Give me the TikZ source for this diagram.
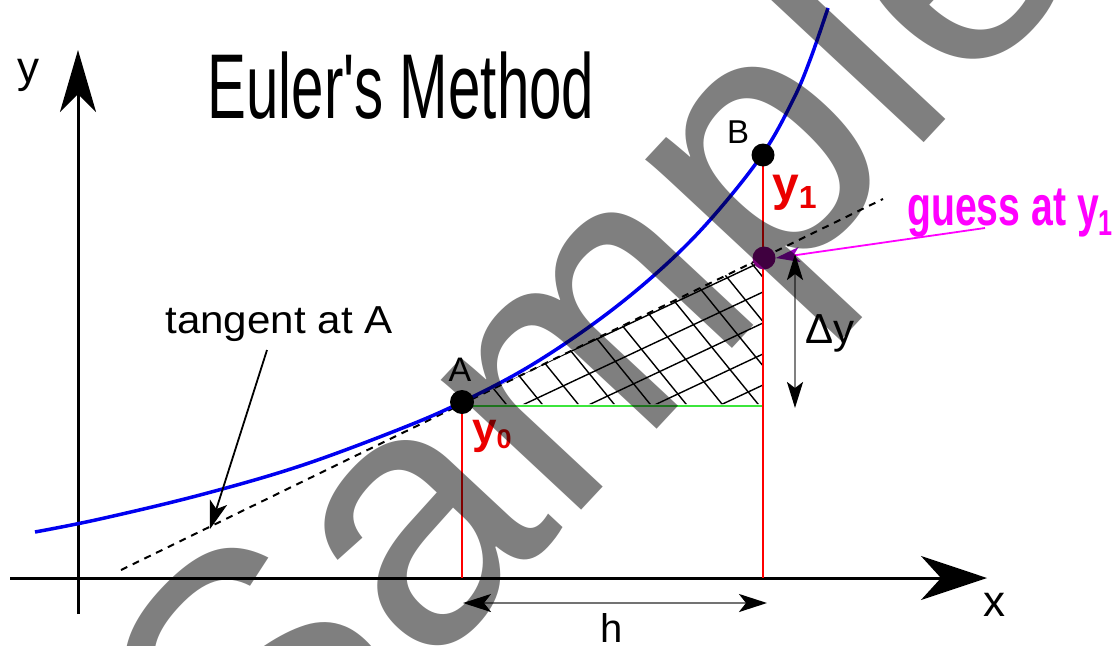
\documentclass[tikz,border=0pt]{standalone}
\usepackage{fontspec}
\setmainfont{Liberation Sans}
\newfontfamily\plainsans{Liberation Sans}
\usetikzlibrary{arrows.meta}
\definecolor{curveblue}{RGB}{0,0,240}
\definecolor{ptpurple}{RGB}{128,0,128}
\definecolor{ylabred}{RGB}{235,0,0}
\definecolor{hgreen}{RGB}{60,230,60}
\definecolor{guessmag}{RGB}{255,0,255}
\definecolor{arrowpurple}{RGB}{150,0,190}
\begin{document}
\begin{tikzpicture}[x=1pt,y=-1pt,
  lab/.style={inner sep=0pt, font=\fontsize{#1}{#1}\selectfont},
  axisline/.style={line width=3pt},
  bigtip/.style={-{Stealth[length=62pt,width=36pt,inset=18pt]}},
  xtip/.style={-{Stealth[length=66pt,width=44pt,inset=20pt]}},
  dimarrow/.style={line width=2.5pt, draw=black!55, {Stealth[black,length=28pt,width=18pt,inset=7pt]}-{Stealth[black,length=28pt,width=18pt,inset=7pt]}},
  redline/.style={line width=2.5pt, draw=red},
  hatch/.style={line width=1.4pt, draw=black},
  dot/.style={circle, inner sep=0pt, minimum size=#1},
  tangentline/.style={line width=2pt, dash pattern=on 7pt off 6pt},
  pointer/.style={line width=1.8pt, -{Stealth[length=28pt,width=18pt,inset=7pt]}},
]
\useasboundingbox (0,0) rectangle (1118,645);
\fill[white] (0,0) rectangle (1118,645);

% axes
\coordinate (Y0) at (78,614);
\coordinate (Y1) at (78,50);
\coordinate (X0) at (10,578);
\coordinate (X1) at (987,578);
\draw[axisline,bigtip] (Y0) -- (Y1);
\draw[axisline,xtip] (X0) -- (X1);
\node[lab=44, anchor=base] (ylab) at (28,82) {y};
\node[lab=44, anchor=base] (xlab) at (994,616) {x};

% title
\node[inner sep=0pt, anchor=base, xscale=0.633, font=\plainsans\fontsize{92}{92}\selectfont] (title) at (401,118) {Euler's Method};

% hatch
\begin{scope}
  \clip (462,404) -- (763,404) -- (763,257) -- cycle;
  \foreach \k in {-1,...,7} {
    \draw[hatch] ({363},{416-31*\k+188}) -- ({813},{416-31*\k-23.5});
  }
  \foreach \k in {0,...,12} {
    \draw[hatch] ({470+36*\k-150},{404-1.23*150}) -- ({470+36*\k+20},{404+1.23*20});
  }
\end{scope}

% points
\coordinate (Apos) at (462,402);
\coordinate (Bpos) at (763,155);
\coordinate (Gpos) at (764,258);
\coordinate (Gfoot) at (763,406);

% green line
\draw[line width=2.2pt, hgreen] (Apos |- Gfoot) -- (Gfoot);

% red verticals
\draw[redline] (Apos) -- (Apos |- X0);
\draw[redline] (Bpos) -- (Bpos |- X0);

% tangent
\coordinate (T1) at (121,570);
\coordinate (T2) at (883,199);
\draw[tangentline] (T1) -- (T2);

% curve
\draw[curveblue, line width=3.5pt] plot[smooth, tension=0.6] coordinates {
  (35,532) (100,519) (200,495) (300,466) (400,429) (462,402) (530,366)
  (600,319) (660,270) (710,220) (762,155) (793,100) (810,60) (828,8)};

% dots
\node[dot=24pt, fill=black] (A) at (Apos) {};
\node[dot=23pt, fill=black] (B) at (Bpos) {};
\node[dot=23pt, fill=ptpurple] (G) at (Gpos) {};

\node[lab=34, anchor=base] (labA) at (460,381) {A};
\node[lab=33, anchor=base] (labB) at (738,143) {B};

% y0, y1
\node[anchor=base west, inner sep=0pt, text=ylabred, font=\fontsize{44}{44}\selectfont\bfseries] (y0) at (472,443)
  {y\raisebox{-5pt}{\fontsize{27}{27}\selectfont 0}};
\node[anchor=base west, inner sep=0pt, text=ylabred, font=\fontsize{48}{48}\selectfont\bfseries] (y1) at (772,200)
  {y\raisebox{-8pt}{\fontsize{32}{32}\selectfont 1}};

% guess label
\node[anchor=base west, inner sep=0pt, text=guessmag, font=\fontsize{56}{56}\selectfont\bfseries, xscale=0.7] (guess) at (907,225)
  {guess at y\raisebox{-10pt}{\fontsize{36}{36}\selectfont 1}};
\coordinate (gstart) at (985,228);
\draw[guessmag, line width=1.8pt, -{Stealth[arrowpurple,length=24pt,width=15pt,inset=6pt]}] (gstart) -- (G.east);

% delta y
\coordinate (dy1) at (795,408);
\coordinate (dy2) at (795,254);
\draw[line width=2.5pt, draw=black!50, {Stealth[black,length=26pt,width=16pt,inset=6pt]}-{Stealth[black,length=26pt,width=16pt,inset=6pt]}] (dy1) -- (dy2);
\node[lab=42, anchor=base west] (dylab) at (805,343) {Δy};

% h
\coordinate (h1) at (463,603);
\coordinate (h2) at (767,603);
\draw[dimarrow] (h1) -- (h2);
\node[lab=40, anchor=base] (hlab) at (612,642) {h};

% tangent label
\node[lab=39, anchor=base, xscale=1.08] (tlab) at (279,333) {tangent at A};
\coordinate (ttip) at (210,529);
\draw[pointer] (267,350) -- (ttip);

% watermark
\node[rotate=47, anchor=base west, inner sep=0pt, text=black, text opacity=0.5,
  font=\fontsize{362}{362}\selectfont] (wm) at (262,852) {Sample};
\end{tikzpicture}
\end{document}
